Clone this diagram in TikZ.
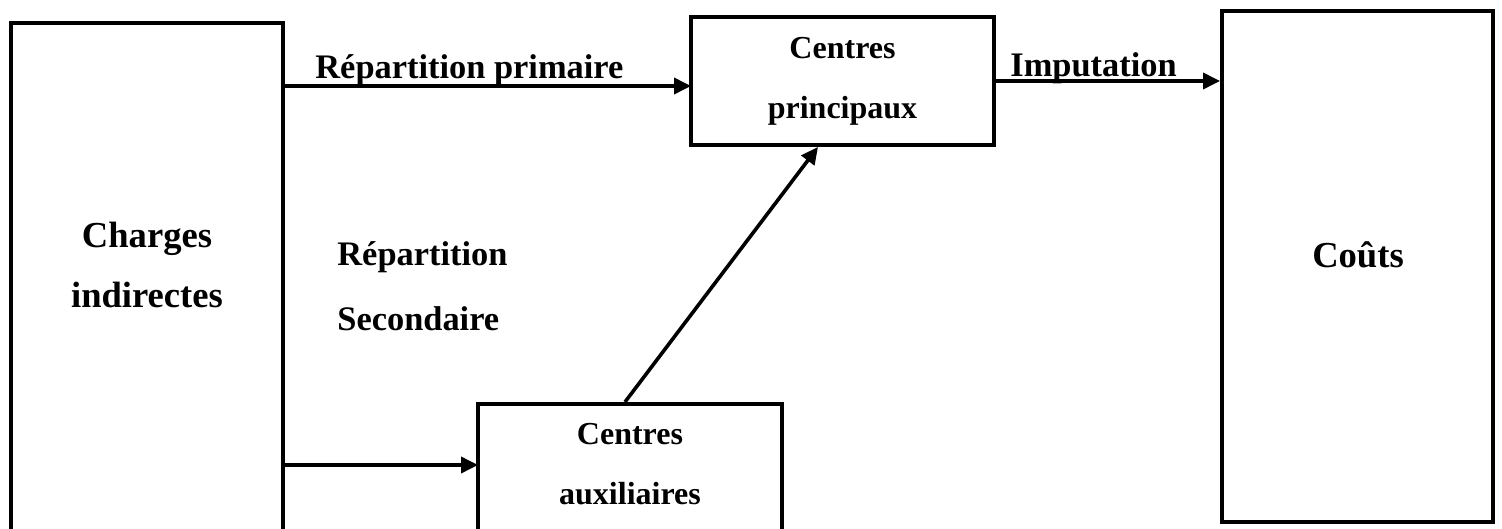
\documentclass[tikz,border=0pt]{standalone}
\usepackage{fontspec}
\setmainfont{Liberation Serif}
\usetikzlibrary{positioning,calc,arrows.meta}
\tikzset{
  box/.style={rectangle,draw,line width=2pt,inner sep=0pt},
  boxtxt/.style={align=center,font=\fontsize{16}{30}\selectfont\bfseries},
  bigtxt/.style={align=center,inner sep=0pt,font=\fontsize{18.3}{30}\selectfont\bfseries},
  lbl/.style={inner sep=0pt,align=left,font=\fontsize{17.2}{32.5}\selectfont\bfseries},
  edge/.style={-{Triangle[length=8.5pt,width=8pt]},line width=1.8pt}
}
\begin{document}
\begin{tikzpicture}[x=0.5pt,y=-0.5pt]
\path[use as bounding box,clip] (0,0) rectangle (1502,529);
% boites
\node[box,minimum width=136pt,minimum height=338.5pt] (charges) at (147,361.5) {};
\node[bigtxt] (chargesTxt) at (147,265) {Charges\\indirectes};
\node[box,boxtxt,minimum width=151.5pt,minimum height=64pt] (prin) at (842.5,81) {Centres\\principaux};
\node[box,minimum width=152pt,minimum height=148pt] (aux) at (630,552) {};
\node[boxtxt,inner sep=0pt] (auxTxt) at (630,464) {Centres\\auxiliaires};
\node[box,minimum width=135.5pt,minimum height=255.5pt] (couts) at (1357.5,266.5) {};
\node[bigtxt] (coutsTxt) at (1358,255) {Coûts};
% fleches
\coordinate (prinIn) at (691,86);
\coordinate (auxIn) at (478,465);
\draw[edge] (charges.east |- prinIn) -- (prinIn);
\draw[edge] (charges.east |- auxIn) -- (auxIn);
\draw[edge] ($(aux.north west)+(149,0)$) -- ($(prin.south west)+(129,0)$);
\draw[edge] (prin.east) -- (couts.west |- prin.east);
% etiquettes
\node[lbl,anchor=base west] (primLbl) at (315,79) {Répartition primaire};
\node[lbl,anchor=base west] (impLbl) at (1010,77) {Imputation};
\node[lbl,anchor=base west] (secLbl) at (337,330) {Répartition\\Secondaire};
\end{tikzpicture}
\end{document}
